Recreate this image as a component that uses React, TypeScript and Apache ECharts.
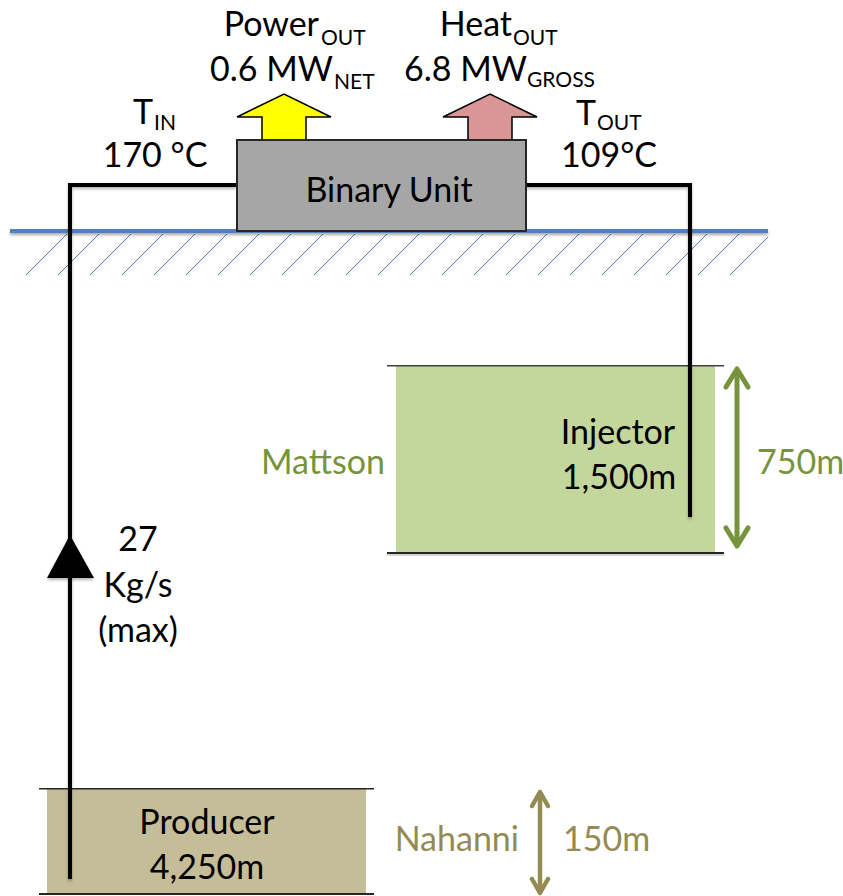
import React, { useEffect, useRef } from "react";
import * as echarts from "echarts";

// ---- diagram content ----
const outputNames = ["Power", "Heat"];
const outputValues = ["0.6 MW", "6.8 MW"];
const outputSubs = ["NET", "GROSS"];
const tempLabels = ["IN", "OUT"];
const tempValues = ["170 °C", "109°C"];
const flowLines = ["27", "Kg/s", "(max)"];
const wellNames = ["Producer", "Injector"];
const wellDepths = ["4,250m", "1,500m"];
const formations = ["Nahanni", "Mattson"];
const thicknesses = ["150m", "750m"];
const unitName = "Binary Unit";

const FONT = "Lato";
const MAIN = 34;
const SUB = 21;

function txt(x: number, y: number, text: string, size: number, fill = "#000", align = "center") {
  return {
    type: "text",
    x,
    y,
    z: 50,
    style: { text, fontSize: size, lineHeight: size, fontFamily: FONT, fill, align, verticalAlign: "middle" },
  };
}
function ln(x1: number, y1: number, x2: number, y2: number, stroke: string, lineWidth: number, z = 10) {
  return { type: "line", z, shape: { x1, y1, x2, y2 }, style: { stroke, lineWidth } };
}
function bar(x: number, y: number, width: number, height: number, fill: string, z: number, shadow = false) {
  return {
    type: "rect", z,
    shape: { x, y, width, height },
    style: shadow
      ? { fill, shadowBlur: 3, shadowColor: "rgba(0,0,0,0.35)", shadowOffsetY: 2 }
      : { fill },
  };
}

function buildElements() {
  const els: any[] = [];
  // hatch
  for (let i = 0; i < 23; i++) {
    const bx = 26 + 32 * i;
    const tx = Math.min(bx + 41, 768);
    els.push(ln(bx, 275, tx, 275 - (tx - bx), "#4a7ebb", 1, 2));
  }
  // ground line
  els.push(bar(10, 229, 758, 4, "#4f81bd", 5, true));

  // injector (Mattson)
  els.push({ type: "rect", z: 6, shape: { x: 396, y: 366, width: 319, height: 187 }, style: { fill: "#c3d69b" } });
  els.push(bar(387, 365, 337, 1.5, "#404040", 7));
  els.push(bar(387, 552, 337, 2, "#262626", 7, true));
  // producer (Nahanni)
  els.push({ type: "rect", z: 6, shape: { x: 47, y: 789, width: 319, height: 105 }, style: { fill: "#c4bd97" } });
  els.push(bar(39, 788, 335, 1.5, "#262626", 7));
  els.push(bar(39, 893, 335, 2, "#262626", 7));

  // pipes
  const pipeStyle = { stroke: "#000", lineWidth: 4, fill: null, shadowBlur: 3, shadowColor: "rgba(0,0,0,0.3)", shadowOffsetY: 2 };
  els.push({ type: "polyline", z: 20, shape: { points: [[70, 879], [70, 185], [236, 185]] }, style: pipeStyle });
  els.push({ type: "polyline", z: 20, shape: { points: [[525, 185], [690, 185], [690, 517]] }, style: pipeStyle });
  // flow arrow head
  els.push({ type: "polygon", z: 21, shape: { points: [[70, 535], [47, 578], [94, 578]] }, style: { fill: "#000", shadowBlur: 3, shadowColor: "rgba(0,0,0,0.3)", shadowOffsetY: 2 } });

  // binary unit box
  els.push({ type: "rect", z: 25, shape: { x: 237, y: 140, width: 289, height: 91 }, style: { fill: "#a6a6a6", stroke: "#262626", lineWidth: 2 } });

  // output arrows
  const arrow = (cx: number, fill: string) => ({
    type: "polygon", z: 24,
    shape: { points: [[cx - 22, 140], [cx - 22, 117], [cx - 47, 117], [cx, 94], [cx + 47, 117], [cx + 22, 117], [cx + 22, 140]] },
    style: { fill, stroke: "#000", lineWidth: 1.5 },
  });
  els.push(arrow(284, "#ffff00"));
  els.push(arrow(490, "#d99694"));

  // double arrows
  const dbl = (x: number, y1: number, y2: number, color: string, w: number, hw: number, hh: number) => {
    els.push(ln(x, y1 + 2, x, y2 - 2, color, w, 30));
    els.push({ type: "polyline", z: 30, shape: { points: [[x - hw, y1 + hh], [x, y1 + 1], [x + hw, y1 + hh]] }, style: { stroke: color, lineWidth: w, fill: null, lineCap: "round", lineJoin: "round" } });
    els.push({ type: "polyline", z: 30, shape: { points: [[x - hw, y2 - hh], [x, y2 - 1], [x + hw, y2 - hh]] }, style: { stroke: color, lineWidth: w, fill: null, lineCap: "round", lineJoin: "round" } });
  };
  dbl(737, 368, 547, "#77933c", 5, 11, 19);
  dbl(540, 791, 894, "#948a54", 4.5, 8, 15);

  // texts
  els.push(txt(389, 188, unitName, MAIN));
  // outputs
  els.push(txt(319, 22, outputNames[0], MAIN, "#000", "right"));
  els.push(txt(321, 36, "OUT", SUB, "#000", "left"));
  els.push(txt(333, 67, outputValues[0], MAIN, "#000", "right"));
  els.push(txt(334, 80, outputSubs[0], SUB, "#000", "left"));
  els.push(txt(512, 22, outputNames[1], MAIN, "#000", "right"));
  els.push(txt(513, 36, "OUT", SUB, "#000", "left"));
  els.push(txt(527, 67, outputValues[1], MAIN, "#000", "right"));
  els.push(txt(527, 78, outputSubs[1], SUB, "#000", "left"));
  // temperatures
  els.push(txt(153, 110, "T", MAIN, "#000", "right"));
  els.push(txt(154, 121, tempLabels[0], SUB, "#000", "left"));
  els.push(txt(155, 153, tempValues[0], MAIN));
  els.push(txt(596, 111, "T", MAIN, "#000", "right"));
  els.push(txt(597, 121, tempLabels[1], SUB, "#000", "left"));
  els.push(txt(609, 153, tempValues[1], MAIN));
  // flow
  els.push(txt(138, 537, flowLines[0], MAIN));
  els.push(txt(138, 583, flowLines[1], MAIN));
  els.push(txt(138, 628, flowLines[2], MAIN));
  // wells
  els.push(txt(207, 820, wellNames[0], MAIN));
  els.push(txt(207, 865, wellDepths[0], MAIN));
  els.push(txt(618, 430, wellNames[1], MAIN));
  els.push(txt(619, 475, wellDepths[1], MAIN));
  // formations
  els.push(txt(385, 460, formations[1], MAIN, "#77933c", "right"));
  els.push(txt(757, 460, thicknesses[1], MAIN, "#77933c", "left"));
  els.push(txt(519, 837, formations[0], MAIN, "#948a54", "right"));
  els.push(txt(563, 837, thicknesses[0], MAIN, "#948a54", "left"));
  return els;
}

export default function App() {
  const ref = useRef<HTMLDivElement>(null);
  useEffect(() => {
    const chart = echarts.init(ref.current!, null, { renderer: "svg" });
    chart.setOption({
      animation: false,
      backgroundColor: "#ffffff",
      graphic: { elements: buildElements() },
    });
    return () => chart.dispose();
  }, []);
  return (
    <div
      ref={ref}
      style={{ position: "fixed", left: 0, top: 0, width: 843, height: 896, background: "#fff" }}
    />
  );
}
